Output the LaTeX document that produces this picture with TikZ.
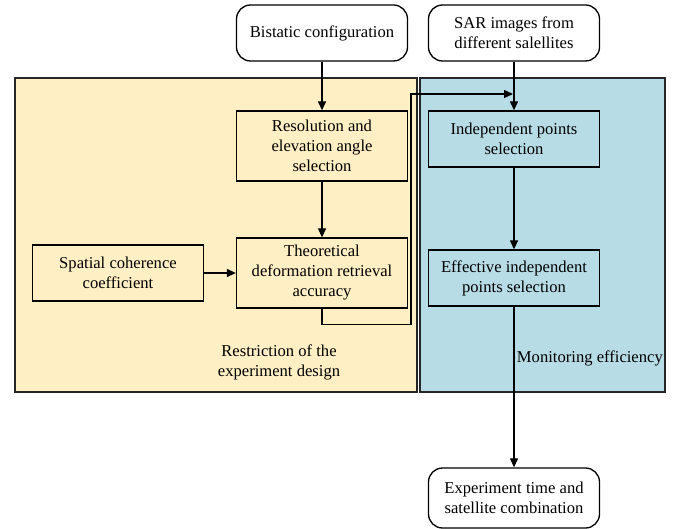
\documentclass[tikz,border=0pt]{standalone}
\usepackage{fontspec}
\setmainfont{Liberation Serif}
\usetikzlibrary{arrows.meta}
\definecolor{panelY}{RGB}{255,239,197}
\definecolor{panelB}{RGB}{184,220,230}
\begin{document}
\begin{tikzpicture}[x=1pt,y=-1pt,
  txt/.style={font=\fontsize{16.6}{20}\selectfont, align=center},
  sqbox/.style={txt, draw=black, line width=1.3pt, minimum width=171pt, inner sep=0pt},
  rbox/.style={sqbox, rounded corners=14pt, fill=white},
  panel/.style={draw=black!85, line width=1.5pt},
  arr/.style={-{Triangle[length=9pt,width=8pt]}, line width=1.2pt}]
\useasboundingbox (0,0) rectangle (682,529);
% panels
\draw[panel, fill=panelY] (15,78) rectangle (417,392);
\draw[panel, fill=panelB] (420,78) rectangle (665,392);
% nodes
\node[rbox, minimum height=56pt] (bist) at (322,33) {Bistatic configuration};
\node[rbox, minimum height=56pt] (sar) at (514,33) {SAR images from\\different salellites};
\node[sqbox, minimum height=70pt] (res) at (322,146) {Resolution and\\elevation angle\\selection};
\node[sqbox, minimum height=70pt] (theo) at (322,273) {Theoretical\\deformation retrieval\\accuracy};
\node[sqbox, minimum height=56pt] (spat) at (118,273) {Spatial coherence\\coefficient};
\node[sqbox, minimum height=56pt] (indep) at (514,139) {Independent points\\selection};
\node[sqbox, minimum height=56pt] (eff) at (514,278) {Effective independent\\points selection};
\node[rbox, minimum height=60pt] (exp) at (514,498) {Experiment time and\\satellite combination};
% labels
\node[txt] (restr) at (279,362) {Restriction of the\\experiment design};
\node[txt, anchor=east, inner sep=1pt] (mon) at (664,358) {Monitoring efficiency};
% connectors
\draw[arr] (bist) -- (res);
\draw[arr] (res) -- (theo);
\draw[arr] (spat) -- (theo);
\draw[arr] (sar) -- (indep);
\draw[arr] (indep) -- (eff);
\draw[arr] (eff) -- (exp);
\coordinate (j) at (513,94);
\draw[arr] (theo.south) -- ++(0,16) -| (411,94) -- (j);
\end{tikzpicture}
\end{document}
